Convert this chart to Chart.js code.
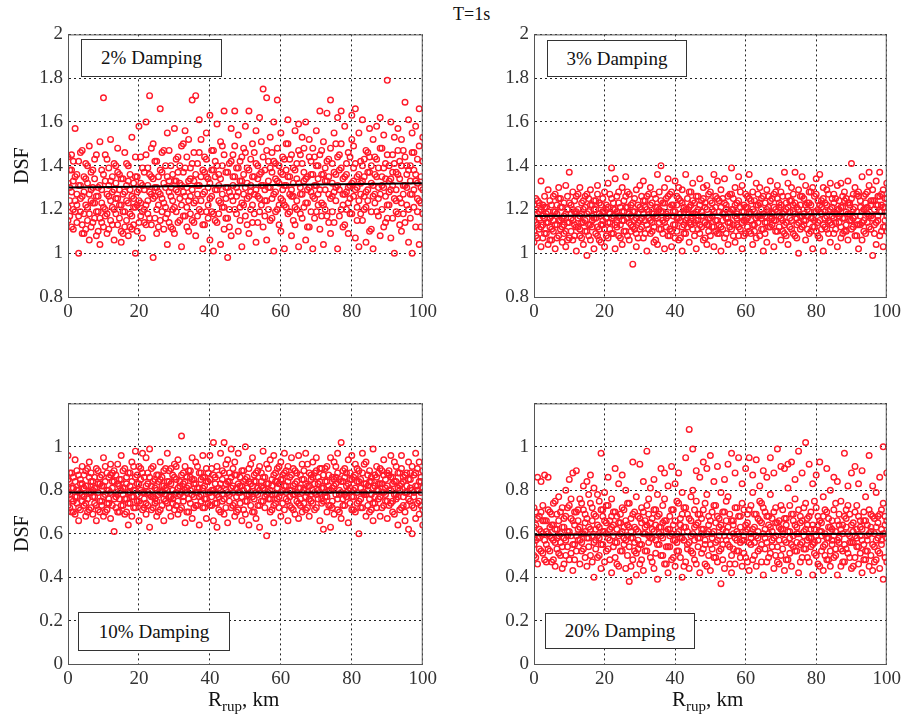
<!DOCTYPE html>
<html>
<head>
<meta charset="utf-8">
<script src="https://cdn.jsdelivr.net/npm/chart.js@4.4.1/dist/chart.umd.min.js"></script>
<style>
  body { margin: 0; background: #fff; width: 907px; height: 725px; position: relative; overflow: hidden;
         font-family: "Liberation Serif", "Times New Roman", Times, "DejaVu Serif", serif; color: #111; }
  canvas { position: absolute; }
  .box { position: absolute; box-sizing: border-box; border: 1.5px solid #333; background: #fff;
         font-size: 19px; display: flex; align-items: center; justify-content: center; }
  .txt { position: absolute; white-space: nowrap; }
  .xt { font-size: 21px; }
  .xt sub { font-size: 15px; }
</style>
</head>
<body>
<div class="txt" style="left:453px;top:4px;font-size:18px;">T=1s</div>

<canvas id="c02" width="441" height="309" style="left:0px;top:18px;"></canvas>
<canvas id="c03" width="411" height="309" style="left:494px;top:18px;"></canvas>
<canvas id="c10" width="441" height="307" style="left:0px;top:387px;"></canvas>
<canvas id="c20" width="411" height="307" style="left:494px;top:387px;"></canvas>

<div class="box" style="left:81px;top:39px;width:141px;height:38px;">2% Damping</div>
<div class="box" style="left:547px;top:40px;width:140px;height:37px;">3% Damping</div>
<div class="box" style="left:78px;top:612px;width:152px;height:39px;">10% Damping</div>
<div class="box" style="left:545px;top:613px;width:150px;height:36px;">20% Damping</div>

<div class="txt xt" style="left:208px;top:687px;">R<sub>rup</sub>, km</div>
<div class="txt xt" style="left:672px;top:687px;">R<sub>rup</sub>, km</div>

<script>
// DSF values, one small list per R_rup column:
// dXX at whole km (0..100), eXX at the half km between them (0.5..99.5)
const d02 = [
[1.15,1.32,1.44,1.21],[1.12,1.28,1.38,1.45],[1.19,1.57,1.24,1.35],[1.00,1.31,1.17,1.42],[1.26,1.13,1.47,1.09],
[1.34,1.22,1.11,1.41],[1.18,1.49,1.27,1.06],[1.23,1.38,1.14,1.30],[1.45,1.08,1.26,1.19],[1.31,1.16,1.51,1.04],
[1.71,1.21,1.36,1.12],[1.27,1.43,1.09,1.18],[1.15,1.52,1.24,1.33],[1.06,1.29,1.41,1.20],[1.37,1.13,1.25,1.48],
[1.22,1.10,1.34,1.05],[1.46,1.19,1.28,1.12],[1.08,1.33,1.23,1.40],[1.17,1.26,1.53,1.11],[1.00,1.35,1.21,1.44],
[1.29,1.14,1.58,1.24],[1.39,1.07,1.31,1.19],[1.60,1.22,1.45,1.13],[1.72,1.28,1.16,1.36],[0.98,1.34,1.50,1.25],
[1.20,1.42,1.09,1.30],[1.66,1.27,1.15,1.38],[1.11,1.47,1.32,1.23],[1.35,1.18,1.55,1.04],[1.26,1.40,1.12,1.30],
[1.57,1.21,1.33,1.09],[1.14,1.44,1.28,1.37],[1.03,1.31,1.49,1.22],[1.39,1.17,1.26,1.56],[1.24,1.52,1.10,1.33],
[1.70,1.29,1.41,1.15],[1.72,1.08,1.36,1.24],[1.46,1.20,1.61,1.31],[1.13,1.38,1.27,1.02],[1.35,1.55,1.19,1.43],
[1.63,1.25,1.06,1.32],[1.18,1.47,1.38,1.01],[1.29,1.59,1.14,1.40],[1.04,1.34,1.23,1.51],[1.65,1.21,1.45,1.11],
[0.98,1.30,1.37,1.16],[1.42,1.57,1.26,1.08],[1.20,1.35,1.49,1.65],[1.10,1.28,1.54,1.39],[1.33,1.03,1.44,1.23],
[1.58,1.17,1.30,1.46],[1.65,1.26,1.09,1.38],[1.22,1.50,1.35,1.14],[1.05,1.41,1.29,1.56],[1.36,1.19,1.62,1.25],
[1.75,1.31,1.12,1.44],[1.71,1.24,1.47,1.06],[1.15,1.39,1.53,1.30],[1.01,1.27,1.42,1.60],[1.70,1.33,1.20,1.48],
[1.25,1.55,1.10,1.37],[1.43,1.02,1.31,1.22],[1.61,1.18,1.35,1.50],[1.08,1.29,1.45,1.26],[1.38,1.56,1.21,1.13],
[1.03,1.32,1.47,1.59],[1.27,1.41,1.16,1.53],[1.60,1.23,1.34,1.06],[1.12,1.44,1.30,1.52],[1.36,1.02,1.26,1.48],
[1.56,1.19,1.40,1.31],[1.65,1.29,1.11,1.45],[1.22,1.51,1.36,1.04],[1.64,1.33,1.17,1.42],[1.70,1.25,1.48,1.09],
[1.14,1.37,1.55,1.28],[1.02,1.44,1.31,1.62],[1.65,1.20,1.39,1.50],[1.27,1.58,1.13,1.35],[1.09,1.46,1.30,1.23],
[1.63,1.32,1.52,1.18],[1.66,1.07,1.41,1.29],[1.24,1.55,1.36,1.03],[1.40,1.15,1.61,1.33],[1.05,1.28,1.47,1.21],
[1.57,1.37,1.10,1.44],[1.31,1.02,1.52,1.26],[1.19,1.43,1.35,1.58],[1.62,1.27,1.08,1.48],[1.12,1.39,1.54,1.30],
[1.79,1.22,1.45,1.16],[1.34,1.60,1.07,1.29],[1.00,1.41,1.25,1.53],[1.47,1.18,1.36,1.57],[1.23,1.52,1.10,1.40],
[1.69,1.31,1.44,1.14],[1.61,1.20,1.38,1.05],[1.00,1.46,1.27,1.55],[1.36,1.58,1.12,1.33],[1.66,1.24,1.49,1.04],
[1.29,1.42,1.18,1.53]
];
const e02 = [
[1.24,1.38,1.17,1.30],[1.33,1.20,1.42,1.11],[1.27,1.14,1.36,1.22],[1.19,1.31,1.46,1.25],[1.35,1.09,1.28,1.18],
[1.21,1.40,1.15,1.32],[1.29,1.12,1.37,1.24],[1.16,1.34,1.23,1.43],[1.30,1.19,1.26,1.10],[1.38,1.23,1.14,1.29],
[1.20,1.33,1.45,1.17],[1.26,1.11,1.31,1.39],[1.13,1.28,1.21,1.35],[1.32,1.18,1.40,1.25],[1.22,1.36,1.16,1.29],
[1.09,1.27,1.19,1.34],[1.31,1.15,1.24,1.41],[1.18,1.29,1.36,1.12],[1.25,1.13,1.21,1.32],[1.35,1.22,1.10,1.28],
[1.17,1.32,1.44,1.23],[1.29,1.20,1.37,1.14],[1.24,1.39,1.18,1.31],[1.13,1.27,1.48,1.35],[1.30,1.16,1.26,1.42],
[1.22,1.35,1.12,1.28],[1.37,1.25,1.19,1.46],[1.16,1.30,1.40,1.21],[1.28,1.14,1.33,1.47],[1.20,1.36,1.24,1.11],
[1.33,1.19,1.43,1.29],[1.25,1.40,1.15,1.32],[1.17,1.28,1.37,1.50],[1.30,1.21,1.12,1.44],[1.39,1.26,1.18,1.34],
[1.23,1.33,1.46,1.14],[1.31,1.17,1.27,1.41],[1.19,1.35,1.24,1.52],[1.28,1.44,1.13,1.37],[1.34,1.22,1.30,1.16],
[1.26,1.38,1.47,1.19],[1.15,1.29,1.35,1.42],[1.36,1.24,1.18,1.31],[1.21,1.40,1.27,1.49],[1.30,1.16,1.37,1.25],
[1.41,1.28,1.20,1.12],[1.24,1.35,1.45,1.31],[1.18,1.30,1.26,1.39],[1.33,1.42,1.21,1.15],[1.27,1.36,1.48,1.22],
[1.39,1.25,1.13,1.32],[1.20,1.31,1.43,1.28],[1.35,1.18,1.27,1.46],[1.26,1.40,1.34,1.14],[1.31,1.22,1.51,1.37],
[1.17,1.29,1.38,1.24],[1.42,1.33,1.20,1.30],[1.25,1.37,1.46,1.16],[1.34,1.19,1.28,1.41],[1.22,1.32,1.40,1.13],
[1.29,1.44,1.24,1.36],[1.38,1.21,1.31,1.50],[1.19,1.35,1.27,1.43],[1.32,1.26,1.15,1.39],[1.24,1.41,1.34,1.20],
[1.45,1.30,1.18,1.27],[1.21,1.37,1.48,1.33],[1.35,1.23,1.29,1.12],[1.28,1.42,1.36,1.19],[1.16,1.31,1.25,1.44],
[1.40,1.27,1.34,1.22],[1.23,1.36,1.47,1.17],[1.33,1.20,1.29,1.39],[1.27,1.43,1.14,1.35],[1.19,1.32,1.41,1.26],
[1.36,1.24,1.50,1.30],[1.29,1.38,1.17,1.45],[1.22,1.34,1.27,1.12],[1.41,1.28,1.36,1.20],[1.31,1.18,1.44,1.25],
[1.26,1.39,1.33,1.49],[1.35,1.21,1.15,1.30],[1.18,1.32,1.42,1.27],[1.43,1.26,1.35,1.20],[1.24,1.37,1.29,1.46],
[1.32,1.19,1.40,1.11],[1.27,1.44,1.23,1.36],[1.39,1.30,1.17,1.25],[1.20,1.35,1.48,1.31],[1.34,1.26,1.14,1.41],
[1.28,1.40,1.22,1.33],[1.16,1.31,1.37,1.45],[1.37,1.24,1.29,1.19],[1.25,1.42,1.34,1.13],[1.31,1.18,1.47,1.27],
[1.22,1.36,1.30,1.40],[1.40,1.27,1.16,1.33],[1.29,1.38,1.21,1.46],[1.19,1.32,1.43,1.25],[1.35,1.23,1.12,1.30]
];
const d03 = [
[1.10,1.22,1.15,1.05],[1.18,1.07,1.24,1.13],[1.33,1.12,1.20,1.03],[1.09,1.26,1.16,1.21],[1.14,1.04,1.29,1.19],
[1.22,1.11,1.17,1.06],[1.02,1.19,1.27,1.13],[1.25,1.08,1.15,1.30],[1.16,1.21,1.05,1.12],[1.31,1.10,1.18,1.03],
[1.37,1.14,1.23,1.07],[1.06,1.20,1.28,1.15],[1.19,1.12,1.01,1.26],[1.11,1.30,1.17,1.08],[1.24,1.04,1.14,1.20],
[0.99,1.18,1.27,1.10],[1.13,1.22,1.06,1.29],[1.20,1.02,1.16,1.24],[1.08,1.27,1.12,1.31],[1.17,1.05,1.22,1.13],
[1.28,1.11,1.19,1.03],[1.14,1.32,1.07,1.21],[1.39,1.16,1.25,1.09],[1.02,1.20,1.13,1.34],[1.23,1.08,1.17,1.28],
[1.15,1.30,1.04,1.19],[1.10,1.21,1.26,1.35],[1.27,1.06,1.14,1.18],[0.95,1.19,1.23,1.12],[1.16,1.03,1.29,1.09],
[1.21,1.31,1.11,1.15],[1.07,1.24,1.18,1.33],[1.13,1.01,1.26,1.20],[1.30,1.15,1.09,1.22],[1.18,1.27,1.05,1.12],
[1.04,1.21,1.36,1.16],[1.40,1.11,1.24,1.19],[1.14,1.30,1.02,1.23],[1.26,1.08,1.17,1.34],[1.10,1.22,1.28,1.03],
[1.19,1.33,1.13,1.07],[1.06,1.25,1.16,1.30],[1.23,1.12,1.29,1.01],[1.15,1.36,1.09,1.20],[1.28,1.05,1.21,1.14],
[1.11,1.18,1.32,1.24],[1.02,1.26,1.15,1.19],[1.22,1.09,1.34,1.13],[1.17,1.30,1.06,1.25],[1.31,1.13,1.20,1.04],
[1.08,1.24,1.16,1.28],[1.19,1.03,1.36,1.12],[1.25,1.15,1.09,1.33],[1.12,1.29,1.21,1.01],[1.34,1.07,1.18,1.23],
[1.16,1.26,1.04,1.14],[1.39,1.20,1.11,1.27],[1.05,1.17,1.30,1.22],[1.24,1.12,1.35,1.08],[1.14,1.31,1.02,1.19],
[1.27,1.09,1.21,1.15],[1.10,1.36,1.18,1.25],[1.20,1.04,1.28,1.13],[1.32,1.16,1.07,1.22],[1.08,1.23,1.30,1.17],
[1.18,1.01,1.26,1.11],[1.29,1.14,1.20,1.05],[1.12,1.33,1.17,1.24],[1.03,1.21,1.27,1.15],[1.25,1.10,1.31,1.19],
[1.16,1.28,1.06,1.22],[1.37,1.13,1.19,1.09],[1.21,1.04,1.26,1.32],[1.11,1.24,1.15,1.30],[1.37,1.18,1.08,1.23],
[1.00,1.20,1.29,1.14],[1.26,1.12,1.35,1.17],[1.15,1.31,1.06,1.22],[1.09,1.23,1.19,1.28],[1.30,1.16,1.02,1.12],
[1.19,1.27,1.10,1.34],[1.36,1.07,1.22,1.15],[1.13,1.25,1.30,1.01],[1.22,1.11,1.17,1.29],[1.05,1.32,1.20,1.14],
[1.27,1.16,1.09,1.23],[1.18,1.03,1.31,1.20],[1.32,1.21,1.12,1.07],[1.10,1.28,1.24,1.16],[1.23,1.06,1.18,1.33],
[1.41,1.15,1.25,1.11],[1.08,1.30,1.21,1.17],[1.26,1.13,1.02,1.28],[1.14,1.35,1.19,1.06],[1.20,1.09,1.27,1.23],
[1.37,1.17,1.12,1.31],[0.99,1.24,1.16,1.29],[1.22,1.04,1.33,1.14],[1.37,1.19,1.08,1.26],[1.12,1.29,1.21,1.03],
[1.25,1.17,1.10,1.32]
];
const e03 = [
[1.14,1.20,1.08,1.25],[1.19,1.11,1.16,1.23],[1.07,1.17,1.22,1.13],[1.21,1.14,1.09,1.18],[1.16,1.24,1.12,1.06],
[1.10,1.19,1.26,1.15],[1.22,1.13,1.07,1.18],[1.15,1.21,1.11,1.25],[1.09,1.17,1.23,1.13],[1.20,1.26,1.14,1.06],
[1.16,1.10,1.22,1.18],[1.24,1.13,1.08,1.19],[1.12,1.20,1.16,1.27],[1.18,1.07,1.23,1.14],[1.21,1.15,1.10,1.26],
[1.13,1.19,1.25,1.08],[1.17,1.22,1.12,1.15],[1.09,1.16,1.20,1.24],[1.23,1.11,1.18,1.06],[1.15,1.25,1.13,1.19],
[1.20,1.08,1.16,1.22],[1.11,1.18,1.27,1.14],[1.17,1.23,1.09,1.20],[1.26,1.14,1.19,1.12],[1.13,1.21,1.07,1.17],
[1.19,1.10,1.24,1.15],[1.08,1.16,1.21,1.28],[1.22,1.13,1.17,1.10],[1.15,1.25,1.11,1.19],[1.18,1.07,1.22,1.14],
[1.12,1.20,1.26,1.16],[1.24,1.15,1.09,1.21],[1.16,1.11,1.19,1.27],[1.10,1.23,1.14,1.18],[1.21,1.17,1.06,1.25],
[1.14,1.28,1.20,1.11],[1.19,1.09,1.15,1.23],[1.25,1.18,1.12,1.16],[1.11,1.21,1.27,1.08],[1.17,1.13,1.22,1.19],
[1.22,1.16,1.10,1.26],[1.15,1.24,1.18,1.07],[1.09,1.19,1.13,1.21],[1.20,1.12,1.25,1.16],[1.13,1.22,1.17,1.28],
[1.18,1.08,1.23,1.14],[1.26,1.15,1.11,1.20],[1.12,1.19,1.24,1.17],[1.21,1.14,1.07,1.23],[1.16,1.27,1.13,1.10],
[1.23,1.17,1.20,1.12],[1.10,1.21,1.15,1.26],[1.19,1.13,1.09,1.24],[1.15,1.25,1.18,1.11],[1.20,1.09,1.22,1.16],
[1.27,1.14,1.12,1.19],[1.13,1.20,1.25,1.08],[1.18,1.23,1.16,1.13],[1.11,1.17,1.21,1.28],[1.22,1.15,1.08,1.19],
[1.16,1.26,1.12,1.21],[1.09,1.18,1.24,1.15],[1.24,1.13,1.19,1.10],[1.14,1.22,1.17,1.27],[1.20,1.11,1.25,1.16],
[1.17,1.23,1.09,1.14],[1.12,1.19,1.21,1.26],[1.25,1.16,1.13,1.18],[1.15,1.28,1.20,1.10],[1.21,1.12,1.17,1.23],
[1.10,1.18,1.26,1.15],[1.23,1.14,1.08,1.20],[1.16,1.24,1.19,1.12],[1.19,1.09,1.22,1.27],[1.13,1.21,1.16,1.07],
[1.26,1.17,1.11,1.22],[1.18,1.13,1.25,1.15],[1.11,1.20,1.23,1.17],[1.22,1.16,1.10,1.28],[1.15,1.26,1.19,1.12],
[1.20,1.08,1.14,1.24],[1.24,1.18,1.21,1.11],[1.12,1.23,1.16,1.19],[1.19,1.15,1.27,1.09],[1.17,1.21,1.13,1.25],
[1.25,1.11,1.18,1.14],[1.14,1.20,1.24,1.17],[1.21,1.16,1.09,1.26],[1.10,1.25,1.19,1.13],[1.23,1.18,1.15,1.22],
[1.16,1.12,1.27,1.20],[1.27,1.19,1.13,1.08],[1.13,1.24,1.21,1.17],[1.20,1.15,1.10,1.26],[1.18,1.28,1.14,1.21],
[1.11,1.22,1.17,1.24],[1.24,1.13,1.20,1.09],[1.17,1.26,1.15,1.22],[1.22,1.10,1.19,1.27],[1.15,1.21,1.25,1.12]
];
const d10 = [
[0.73,0.85,0.96,0.79],[0.81,0.70,0.88,0.76],[0.94,0.77,0.69,0.84],[0.72,0.87,0.80,0.66],[0.83,0.75,0.91,0.78],
[0.68,0.82,0.74,0.89],[0.86,0.79,0.93,0.71],[0.77,0.69,0.84,0.80],[0.90,0.73,0.81,0.66],[0.75,0.86,0.70,0.83],
[0.82,0.95,0.77,0.68],[0.71,0.80,0.88,0.74],[0.87,0.67,0.79,0.92],[0.61,0.84,0.76,0.89],[0.78,0.92,0.70,0.83],
[0.85,0.73,0.96,0.80],[0.69,0.81,0.76,0.90],[0.64,0.88,0.79,0.74],[0.93,0.77,0.84,0.68],[0.80,0.98,0.72,0.86],
[0.75,0.83,0.66,0.91],[0.88,0.71,0.79,0.97],[0.82,0.95,0.74,0.69],[0.99,0.78,0.86,0.63],[0.72,0.84,0.91,0.77],
[0.87,0.68,0.80,0.75],[0.79,0.93,0.71,0.85],[0.66,0.82,0.89,0.76],[0.84,0.74,0.97,0.80],[0.77,0.90,0.68,0.83],
[0.92,0.71,0.86,0.78],[0.69,0.81,0.75,0.94],[1.05,0.87,0.79,0.72],[0.80,0.65,0.91,0.84],[0.76,0.89,0.70,0.82],
[0.95,0.78,0.85,0.67],[0.73,0.83,0.93,0.79],[0.88,0.64,0.77,0.81],[0.81,0.96,0.72,0.86],[0.67,0.84,0.90,0.76],
[0.85,0.73,0.79,0.96],[1.02,0.80,0.66,0.87],[0.78,0.91,0.74,0.63],[0.83,0.70,0.97,0.80],[1.02,0.76,0.88,0.69],
[0.79,0.94,0.65,0.84],[0.86,0.72,0.81,0.99],[0.74,0.87,0.93,0.68],[0.97,0.79,0.71,0.83],[0.82,0.66,0.89,0.77],
[0.69,0.85,0.75,1.00],[0.90,0.78,0.84,0.64],[0.77,0.95,0.70,0.82],[0.84,0.67,0.88,0.79],[0.73,0.91,0.80,0.63],
[0.98,0.81,0.75,0.86],[0.59,0.83,0.78,0.92],[0.80,0.70,0.94,0.76],[0.87,0.96,0.73,0.65],[0.76,0.84,0.90,0.81],
[0.93,0.68,0.79,0.85],[0.71,0.88,0.82,0.97],[0.84,0.75,0.66,0.91],[0.95,0.80,0.87,0.72],[0.78,0.89,0.69,0.83],
[0.81,0.96,0.74,0.67],[0.70,0.85,0.92,0.79],[0.97,0.77,0.83,0.71],[0.82,0.68,0.88,0.76],[0.74,0.93,0.80,0.86],
[0.89,0.72,0.78,0.95],[0.66,0.84,0.90,0.79],[0.62,0.81,0.75,0.87],[0.91,0.77,0.70,0.84],[0.80,0.95,0.73,0.63],
[0.85,0.69,0.82,0.93],[0.76,0.88,0.97,0.71],[1.02,0.79,0.84,0.67],[0.73,0.90,0.78,0.86],[0.83,0.65,0.94,0.80],
[0.96,0.77,0.71,0.85],[0.70,0.87,0.81,0.92],[0.60,0.84,0.75,0.89],[0.88,0.72,0.97,0.79],[0.78,0.93,0.68,0.83],
[0.84,0.70,0.89,0.76],[0.99,0.81,0.74,0.66],[0.72,0.86,0.91,0.80],[0.90,0.77,0.68,0.83],[0.79,0.94,0.73,0.87],
[0.67,0.82,0.88,0.75],[0.86,0.74,0.96,0.80],[0.93,0.69,0.78,0.84],[0.77,0.88,0.64,0.81],[0.83,0.96,0.72,0.90],
[0.70,0.79,0.87,0.66],[0.62,0.85,0.93,0.76],[0.60,0.80,0.73,0.91],[0.88,0.67,0.82,0.97],[0.75,0.84,0.69,0.93],
[0.81,0.71,0.89,0.64]
];
const e10 = [
[0.78,0.84,0.72,0.88],[0.81,0.75,0.86,0.70],[0.74,0.80,0.89,0.77],[0.85,0.71,0.79,0.83],[0.77,0.87,0.73,0.81],
[0.82,0.76,0.90,0.70],[0.72,0.79,0.84,0.88],[0.86,0.74,0.81,0.77],[0.79,0.89,0.71,0.83],[0.75,0.82,0.87,0.73],
[0.84,0.70,0.78,0.91],[0.80,0.86,0.74,0.76],[0.73,0.81,0.88,0.84],[0.87,0.77,0.72,0.79],[0.76,0.85,0.82,0.70],
[0.81,0.73,0.89,0.78],[0.70,0.83,0.76,0.86],[0.88,0.79,0.74,0.82],[0.77,0.91,0.80,0.72],[0.83,0.75,0.87,0.78],
[0.74,0.80,0.85,0.90],[0.86,0.72,0.79,0.76],[0.79,0.88,0.73,0.83],[0.71,0.82,0.90,0.77],[0.85,0.76,0.81,0.74],
[0.78,0.87,0.70,0.84],[0.82,0.73,0.86,0.79],[0.75,0.90,0.78,0.81],[0.89,0.77,0.84,0.72],[0.80,0.74,0.87,0.76],
[0.73,0.85,0.79,0.91],[0.84,0.78,0.71,0.82],[0.77,0.88,0.83,0.75],[0.81,0.70,0.86,0.79],[0.86,0.80,0.74,0.89],
[0.72,0.83,0.77,0.85],[0.79,0.91,0.81,0.73],[0.85,0.75,0.88,0.78],[0.76,0.82,0.72,0.86],[0.88,0.79,0.84,0.74],
[0.80,0.73,0.90,0.77],[0.74,0.86,0.79,0.83],[0.87,0.77,0.71,0.81],[0.78,0.89,0.85,0.75],[0.83,0.72,0.80,0.92],
[0.75,0.84,0.88,0.78],[0.90,0.79,0.73,0.82],[0.77,0.87,0.81,0.70],[0.82,0.74,0.86,0.79],[0.71,0.80,0.84,0.89],
[0.86,0.78,0.75,0.81],[0.79,0.92,0.83,0.73],[0.84,0.76,0.70,0.87],[0.73,0.81,0.89,0.78],[0.88,0.75,0.82,0.84],
[0.80,0.86,0.72,0.77],[0.76,0.83,0.90,0.79],[0.85,0.71,0.78,0.82],[0.78,0.88,0.84,0.74],[0.83,0.77,0.72,0.91],
[0.74,0.85,0.80,0.87],[0.89,0.79,0.76,0.82],[0.77,0.73,0.86,0.80],[0.82,0.90,0.78,0.71],[0.75,0.84,0.88,0.79],
[0.87,0.76,0.81,0.73],[0.80,0.89,0.74,0.85],[0.72,0.82,0.79,0.92],[0.85,0.78,0.87,0.75],[0.79,0.71,0.83,0.88],
[0.83,0.86,0.76,0.80],[0.76,0.81,0.90,0.74],[0.90,0.77,0.84,0.79],[0.73,0.87,0.80,0.82],[0.81,0.75,0.72,0.86],
[0.86,0.83,0.78,0.91],[0.78,0.70,0.85,0.80],[0.84,0.89,0.76,0.73],[0.77,0.82,0.88,0.79],[0.88,0.74,0.81,0.85],
[0.80,0.86,0.71,0.77],[0.74,0.79,0.84,0.90],[0.85,0.81,0.76,0.72],[0.79,0.92,0.83,0.78],[0.82,0.73,0.87,0.80],
[0.71,0.84,0.78,0.86],[0.87,0.77,0.82,0.74],[0.76,0.88,0.80,0.83],[0.83,0.72,0.89,0.79],[0.78,0.85,0.75,0.81],
[0.89,0.80,0.73,0.87],[0.75,0.83,0.86,0.70],[0.84,0.78,0.91,0.76],[0.80,0.71,0.82,0.88],[0.86,0.84,0.77,0.73],
[0.73,0.79,0.88,0.82],[0.88,0.75,0.81,0.85],[0.77,0.87,0.72,0.79],[0.82,0.80,0.90,0.74],[0.79,0.73,0.84,0.86]
];
const d20 = [
[0.55,0.63,0.50,0.72],[0.86,0.58,0.46,0.67],[0.61,0.52,0.84,0.70],[0.48,0.66,0.57,0.87],[0.86,0.60,0.53,0.71],
[0.69,0.47,0.58,0.64],[0.56,0.75,0.45,0.62],[0.77,0.51,0.66,0.59],[0.63,0.44,0.72,0.54],[0.50,0.68,0.80,0.57],
[0.85,0.61,0.48,0.73],[0.66,0.55,0.88,0.43],[0.89,0.59,0.70,0.52],[0.46,0.76,0.63,0.57],[0.71,0.53,0.82,0.60],
[0.58,0.84,0.45,0.67],[0.87,0.62,0.50,0.74],[0.40,0.69,0.56,0.81],[0.64,0.78,0.49,0.59],[0.97,0.55,0.71,0.44],
[0.61,0.47,0.79,0.66],[0.53,0.73,0.58,0.86],[0.68,0.42,0.63,0.76],[0.90,0.56,0.49,0.70],[0.45,0.65,0.83,0.59],
[0.72,0.52,0.61,0.87],[0.57,0.80,0.44,0.66],[0.38,0.63,0.74,0.54],[0.93,0.58,0.48,0.69],[0.62,0.77,0.51,0.41],
[0.92,0.55,0.67,0.46],[0.70,0.43,0.60,0.84],[0.98,0.64,0.52,0.73],[0.49,0.81,0.58,0.65],[0.85,0.61,0.44,0.71],
[0.39,0.68,0.55,0.78],[0.63,0.90,0.50,0.59],[0.76,0.46,0.66,0.88],[0.54,0.82,0.42,0.62],[0.91,0.60,0.71,0.48],
[0.66,0.83,0.45,0.57],[0.88,0.52,0.74,0.61],[0.40,0.69,0.58,0.79],[0.95,0.63,0.47,0.72],[1.08,0.56,0.67,0.44],
[0.99,0.60,0.80,0.51],[0.89,0.46,0.64,0.75],[0.58,0.86,0.42,0.69],[0.93,0.53,0.71,0.62],[0.78,0.45,0.60,0.90],
[0.96,0.66,0.55,0.43],[0.61,0.84,0.49,0.73],[0.91,0.57,0.68,0.47],[0.37,0.64,0.79,0.53],[0.85,0.59,0.44,0.70],
[0.55,0.77,0.63,0.92],[0.97,0.50,0.66,0.42],[0.72,0.88,0.58,0.46],[0.60,0.95,0.52,0.68],[0.83,0.45,0.74,0.57],
[0.64,0.90,0.49,0.61],[0.95,0.56,0.71,0.43],[0.48,0.79,0.62,0.87],[0.94,0.59,0.45,0.69],[0.66,0.82,0.53,0.75],
[0.89,0.41,0.60,0.72],[0.56,0.86,0.68,0.47],[0.95,0.63,0.51,0.78],[0.88,0.58,0.44,0.70],[0.99,0.65,0.54,0.47],
[0.62,0.91,0.73,0.50],[0.90,0.57,0.43,0.67],[0.81,0.61,0.48,0.92],[0.93,0.55,0.69,0.45],[0.64,0.85,0.52,0.76],
[0.98,0.60,0.42,0.71],[0.56,0.88,0.66,0.49],[1.02,0.62,0.53,0.74],[0.92,0.47,0.68,0.58],[0.83,0.64,0.41,0.55],
[0.59,0.87,0.50,0.72],[0.93,0.66,0.45,0.61],[0.77,0.54,0.43,0.68],[0.90,0.58,0.70,0.48],[0.63,0.80,0.52,0.45],
[0.49,0.71,0.86,0.59],[0.84,0.57,0.66,0.41],[0.62,0.45,0.75,0.53],[0.97,0.68,0.55,0.47],[0.73,0.51,0.82,0.60],
[0.56,0.88,0.64,0.44],[0.91,0.59,0.49,0.70],[0.68,0.83,0.54,0.46],[0.89,0.62,0.42,0.57],[0.52,0.77,0.66,0.48],
[0.96,0.60,0.45,0.71],[0.82,0.55,0.68,0.43],[0.63,0.48,0.79,0.57],[0.69,0.86,0.51,0.44],[1.00,0.39,0.60,0.74],
[0.58,0.88,0.47,0.66]
];
const e20 = [
[0.57,0.64,0.49,0.70],[0.62,0.53,0.68,0.58],[0.51,0.60,0.73,0.66],[0.66,0.55,0.61,0.47],[0.59,0.70,0.52,0.63],
[0.64,0.48,0.57,0.74],[0.53,0.62,0.69,0.58],[0.70,0.56,0.60,0.50],[0.58,0.67,0.46,0.63],[0.61,0.54,0.72,0.59],
[0.67,0.59,0.51,0.76],[0.55,0.64,0.70,0.48],[0.71,0.57,0.62,0.66],[0.60,0.52,0.74,0.56],[0.65,0.69,0.49,0.61],
[0.54,0.63,0.58,0.78],[0.72,0.59,0.66,0.47],[0.57,0.68,0.53,0.62],[0.63,0.50,0.75,0.58],[0.68,0.61,0.55,0.71],
[0.52,0.65,0.60,0.73],[0.66,0.57,0.48,0.62],[0.59,0.70,0.64,0.54],[0.62,0.46,0.56,0.68],[0.69,0.60,0.52,0.65],
[0.55,0.63,0.71,0.58],[0.64,0.50,0.59,0.74],[0.58,0.67,0.45,0.61],[0.70,0.56,0.63,0.52],[0.53,0.61,0.68,0.57],
[0.65,0.72,0.55,0.48],[0.60,0.52,0.66,0.63],[0.56,0.69,0.59,0.76],[0.67,0.58,0.47,0.62],[0.51,0.64,0.71,0.57],
[0.63,0.55,0.60,0.69],[0.58,0.73,0.50,0.65],[0.66,0.61,0.54,0.46],[0.54,0.68,0.62,0.59],[0.71,0.57,0.49,0.64],
[0.60,0.75,0.56,0.52],[0.64,0.49,0.67,0.58],[0.57,0.63,0.72,0.45],[0.69,0.55,0.61,0.53],[0.52,0.66,0.59,0.77],
[0.63,0.71,0.48,0.57],[0.58,0.54,0.65,0.69],[0.67,0.60,0.51,0.62],[0.55,0.74,0.57,0.46],[0.61,0.50,0.68,0.64],
[0.70,0.58,0.53,0.60],[0.56,0.65,0.73,0.49],[0.63,0.52,0.59,0.67],[0.48,0.62,0.70,0.55],[0.66,0.57,0.61,0.75],
[0.59,0.69,0.46,0.54],[0.64,0.53,0.66,0.60],[0.52,0.61,0.72,0.57],[0.68,0.56,0.49,0.63],[0.57,0.71,0.59,0.51],
[0.62,0.47,0.65,0.69],[0.55,0.60,0.73,0.58],[0.69,0.63,0.50,0.56],[0.58,0.52,0.67,0.61],[0.65,0.74,0.55,0.47],
[0.53,0.62,0.58,0.70],[0.60,0.68,0.49,0.64],[0.67,0.54,0.61,0.57],[0.50,0.65,0.72,0.59],[0.63,0.57,0.46,0.66],
[0.71,0.60,0.53,0.62],[0.56,0.67,0.64,0.48],[0.61,0.51,0.58,0.73],[0.66,0.59,0.69,0.54],[0.52,0.63,0.56,0.60],
[0.68,0.55,0.47,0.65],[0.59,0.72,0.61,0.53],[0.64,0.49,0.57,0.67],[0.54,0.62,0.70,0.58],[0.62,0.56,0.51,0.75],
[0.57,0.68,0.64,0.46],[0.65,0.52,0.59,0.61],[0.50,0.60,0.71,0.55],[0.67,0.58,0.48,0.63],[0.55,0.66,0.62,0.57],
[0.61,0.53,0.74,0.50],[0.58,0.69,0.56,0.64],[0.64,0.47,0.60,0.52],[0.53,0.63,0.67,0.71],[0.69,0.56,0.49,0.59],
[0.56,0.61,0.65,0.45],[0.62,0.73,0.54,0.58],[0.51,0.59,0.66,0.63],[0.66,0.55,0.48,0.70],[0.59,0.64,0.57,0.52],
[0.63,0.50,0.69,0.61],[0.54,0.67,0.60,0.47],[0.68,0.58,0.52,0.65],[0.57,0.62,0.71,0.55],[0.60,0.49,0.64,0.68]
];

// mean trend line, value at R_rup = 0 and 100 km
const mean02 = [1.30, 1.32];
const mean03 = [1.17, 1.18];
const mean10 = [0.79, 0.79];
const mean20 = [0.595, 0.60];

const xTicks = [0, 20, 40, 60, 80, 100];
const serif = "'Liberation Serif', 'Times New Roman', Times, serif";

const frame = {
  id: 'frame',
  afterDatasetsDraw(chart) {
    const a = chart.chartArea, ctx = chart.ctx;
    ctx.save();
    ctx.strokeStyle = '#555';
    ctx.lineWidth = 1;
    ctx.strokeRect(a.left + 0.5, a.top + 0.5, a.right - a.left - 1, a.bottom - a.top);
    ctx.restore();
  }
};

function toPoints(cols, offset) {
  const pts = [];
  cols.forEach((col, i) => col.forEach(v => pts.push({x: i + offset, y: v})));
  return pts;
}

function panel(id, whole, half, mean, ymin, ymax, yTitle, yAxisW) {
  const tickFont = {family: serif, size: 19};
  new Chart(document.getElementById(id), {
    type: 'scatter',
    data: {
      datasets: [{
        data: [{x: 0, y: mean[0]}, {x: 100, y: mean[1]}],
        showLine: true,
        borderColor: '#000',
        borderWidth: 2,
        pointRadius: 0,
        order: 0
      }, {
        data: toPoints(whole, 0).concat(toPoints(half, 0.5)),
        pointRadius: 2.8,
        pointBorderWidth: 1.4,
        pointBorderColor: '#ff1a2a',
        pointBackgroundColor: 'rgba(0,0,0,0)',
        order: 1
      }]
    },
    options: {
      responsive: false,
      animation: false,
      events: [],
      layout: {padding: {top: 14, right: 18, left: 0, bottom: 0}},
      plugins: {legend: {display: false}, tooltip: {enabled: false}},
      scales: {
        x: {
          min: 0, max: 100,
          afterFit: s => { s.height = 30; },
          afterBuildTicks: s => { s.ticks = xTicks.map(v => ({value: v})); },
          ticks: {color: '#333', font: tickFont, padding: 4, maxRotation: 0},
          grid: {color: '#222', lineWidth: 1, drawTicks: false},
          border: {display: true, color: '#555', dash: [2, 3]}
        },
        y: {
          min: ymin, max: ymax,
          afterFit: s => { s.width = yAxisW; },
          ticks: {
            stepSize: 0.2, color: '#333', font: tickFont, padding: 5,
            callback: v => (ymax < 1.5 && v > 1.1) ? '' : String(Number(v.toFixed(1)))
          },
          grid: {color: '#222', lineWidth: 1, drawTicks: false},
          border: {display: true, color: '#555', dash: [2, 3]},
          title: {
            display: yTitle, text: 'DSF', color: '#111',
            font: {family: serif, size: 20},
            padding: {top: 11, bottom: 0}
          }
        }
      }
    },
    plugins: [frame]
  });
}

panel('c02', d02, e02, mean02, 0.8, 2, true, 68);
panel('c03', d03, e03, mean03, 0.8, 2, false, 40);
panel('c10', d10, e10, mean10, 0, 1.2, true, 68);
panel('c20', d20, e20, mean20, 0, 1.2, false, 40);
</script>
</body>
</html>
